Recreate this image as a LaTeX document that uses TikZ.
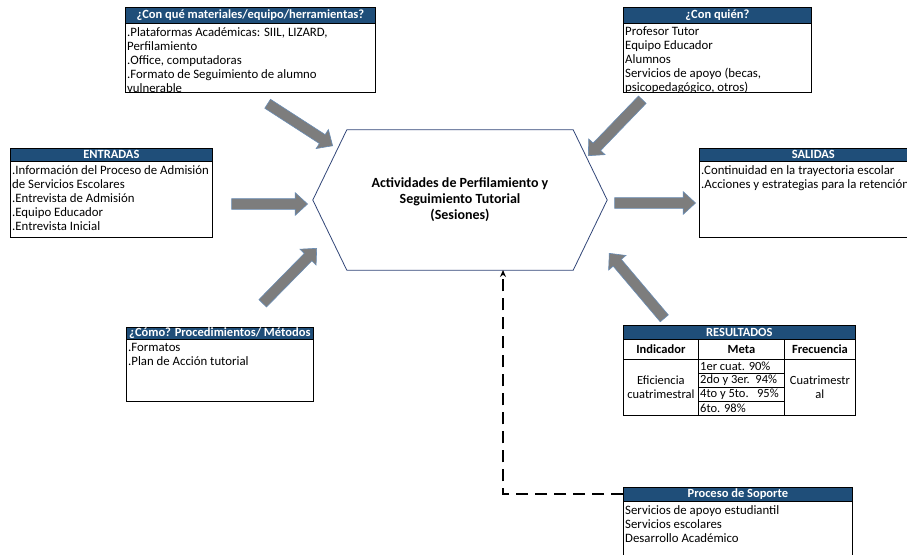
\documentclass[tikz,border=0pt]{standalone}
\usepackage{fontspec}
\setmainfont{Carlito}
\usetikzlibrary{shapes.arrows,calc,arrows.meta}
\definecolor{hdrblue}{RGB}{31,78,121}
\definecolor{hexblue}{RGB}{50,70,120}
\definecolor{arrgray}{RGB}{125,125,125}
\definecolor{arredge}{RGB}{105,140,180}
\newcommand{\blkarrow}[2]{%
  \path let \p1=($(#2)-(#1)$), \n1={veclen(\x1,\y1)}, \n2={atan2(\y1,\x1)} in
    node[blockarr, minimum height=\n1, rotate=\n2, anchor=tip] at (#2) {};}
\begin{document}
\begin{tikzpicture}[x=1pt,y=-1pt,
  hdr/.style={draw=black, line width=0.7pt, fill=hdrblue, text=white,
    font=\fontsize{12.5}{14}\selectfont\bfseries, inner sep=0pt, anchor=north west},
  bodybox/.style={draw=black, line width=0.8pt, fill=white, inner sep=0pt, anchor=north west},
  bodytxt/.style={align=left, anchor=north west, inner xsep=2pt, inner ysep=4pt,
    font=\fontsize{12.8}{14}\selectfont, execute at begin node=\strut},
  cell/.style={draw=black, line width=0.8pt, inner sep=0pt, anchor=north west,
    align=center, font=\fontsize{12.5}{14}\selectfont},
  cellb/.style={cell, font=\fontsize{12.5}{14}\selectfont\bfseries},
  celltxt/.style={anchor=west, inner xsep=2pt, inner ysep=0pt, font=\fontsize{12.5}{14}\selectfont},
  blockarr/.style={single arrow, fill=arrgray, draw=arredge, line width=0.6pt,
    inner xsep=0pt, inner ysep=5pt, minimum width=22pt, single arrow head extend=6pt,
    single arrow tip angle=85, single arrow head indent=0pt},
  hexline/.style={draw=hexblue, line width=0.8pt},
  dashline/.style={line width=1.8pt, dash pattern=on 12pt off 7pt,
    -{Stealth[length=7pt,width=6pt]}}
]
\path[fill=white] (0,0) rectangle (907,554);
\useasboundingbox (0,0) rectangle (907,554);

% central hexagon
\node[minimum width=294pt, minimum height=140pt, inner sep=0pt, align=center,
  font=\fontsize{14}{16}\selectfont\bfseries] (hex) at (460,200)
  {Actividades de Perfilamiento y\\Seguimiento Tutorial\\(Sesiones)};
\draw[hexline] (hex.west) -- ($(hex.north west)+(34,0)$) -- ($(hex.north east)+(-34,0)$)
  -- (hex.east) -- ($(hex.south east)+(-34,0)$) -- ($(hex.south west)+(34,0)$) -- cycle;

% materiales box
\node[bodybox, minimum width=250pt, minimum height=69pt] (matB) at (125,23) {};
\node[hdr, minimum width=250pt, minimum height=16pt] (matH) at (125,7)
  {¿Con qué materiales/equipo/herramientas?};
\begin{scope}
\clip (matB.north west) rectangle (matB.south east);
\node[bodytxt] (matT) at (matB.north west)
  {.Plataformas Académicas: SIIL, LIZARD,\\Perfilamiento\\.Office, computadoras\\.Formato de Seguimiento de alumno\\vulnerable};
\end{scope}

% con quien box
\node[bodybox, minimum width=188pt, minimum height=69pt] (quiB) at (623,23) {};
\node[hdr, minimum width=188pt, minimum height=16pt] (quiH) at (623,7) {¿Con quién?};
\begin{scope}
\clip (quiB.north west) rectangle (quiB.south east);
\node[bodytxt] (quiT) at (quiB.north west)
  {Profesor Tutor\\Equipo Educador\\Alumnos\\Servicios de apoyo (becas,\\psicopedagógico, otros)};
\end{scope}

% entradas box
\node[bodybox, minimum width=202pt, minimum height=76pt] (entB) at (10,161) {};
\node[hdr, minimum width=202pt, minimum height=13pt] (entH) at (10,148) {ENTRADAS};
\node[bodytxt] (entT) at (entB.north west)
  {.Información del Proceso de Admisión\\de Servicios Escolares\\.Entrevista de Admisión\\.Equipo Educador\\.Entrevista Inicial};

% salidas box
\node[bodybox, minimum width=228pt, minimum height=76pt] (salB) at (699,161) {};
\node[hdr, minimum width=228pt, minimum height=13pt] (salH) at (699,148) {SALIDAS};
\node[bodytxt] (salT) at (salB.north west)
  {.Continuidad en la trayectoria escolar\\.Acciones y estrategias para la retención};

% como box
\node[bodybox, minimum width=187pt, minimum height=62pt] (comB) at (126,339) {};
\node[hdr, minimum width=187pt, minimum height=12pt] (comH) at (126,327) {¿Cómo? Procedimientos/ Métodos};
\node[bodytxt] (comT) at (comB.north west) {.Formatos\\.Plan de Acción tutorial};

% resultados table
\node[hdr, minimum width=232pt, minimum height=14pt] (resH) at (623,325) {RESULTADOS};
\node[cellb, minimum width=75pt, minimum height=20pt] (indH) at (623,339) {Indicador};
\node[cellb, minimum width=86pt, minimum height=20pt] (metH) at (698,339) {Meta};
\node[cellb, minimum width=71pt, minimum height=20pt] (freH) at (784,339) {Frecuencia};
\node[cell, minimum width=75pt, minimum height=56pt] (indC) at (623,359) {Eficiencia\\cuatrimestral};
\node[cell, minimum width=71pt, minimum height=56pt] (freC) at (784,359) {Cuatrimestr\\al};
\node[cell, minimum width=86pt, minimum height=14pt] (m1) at (698,359) {};
\node[cell, minimum width=86pt, minimum height=14pt] (m2) at (698,373) {};
\node[cell, minimum width=86pt, minimum height=14pt] (m3) at (698,387) {};
\node[cell, minimum width=86pt, minimum height=14pt] (m4) at (698,401) {};
\node[celltxt] (m1t) at (m1.west) {1er cuat. 90\%};
\node[celltxt] (m2t) at (m2.west) {2do y 3er.\ \ 94\%};
\node[celltxt] (m3t) at (m3.west) {4to y 5to.\ \ \ 95\%};
\node[celltxt] (m4t) at (m4.west) {6to. 98\%};

% soporte box
\node[bodybox, minimum width=229pt, minimum height=62pt] (sopB) at (623,501) {};
\node[hdr, minimum width=229pt, minimum height=14pt] (sopH) at (623,487) {Proceso de Soporte};
\node[bodytxt] (sopT) at (sopB.north west)
  {Servicios de apoyo estudiantil\\Servicios escolares\\Desarrollo Académico};

% dashed support connector
\coordinate (dtip) at (503,270);
\draw[dashline] (sopH.west) -| (dtip);

% block arrows
\coordinate (a1t) at (268,104); \coordinate (a1h) at (333,146);
\coordinate (a2t) at (232,204); \coordinate (a2h) at (308,204);
\coordinate (a3t) at (263,303); \coordinate (a3h) at (317,248);
\coordinate (a4t) at (642,100); \coordinate (a4h) at (588,156);
\coordinate (a5t) at (615,203); \coordinate (a5h) at (696,203);
\coordinate (a6t) at (664,318); \coordinate (a6h) at (609,253);
\blkarrow{a1t}{a1h}
\blkarrow{a2t}{a2h}
\blkarrow{a3t}{a3h}
\blkarrow{a4t}{a4h}
\blkarrow{a5t}{a5h}
\blkarrow{a6t}{a6h}
\end{tikzpicture}
\end{document}
